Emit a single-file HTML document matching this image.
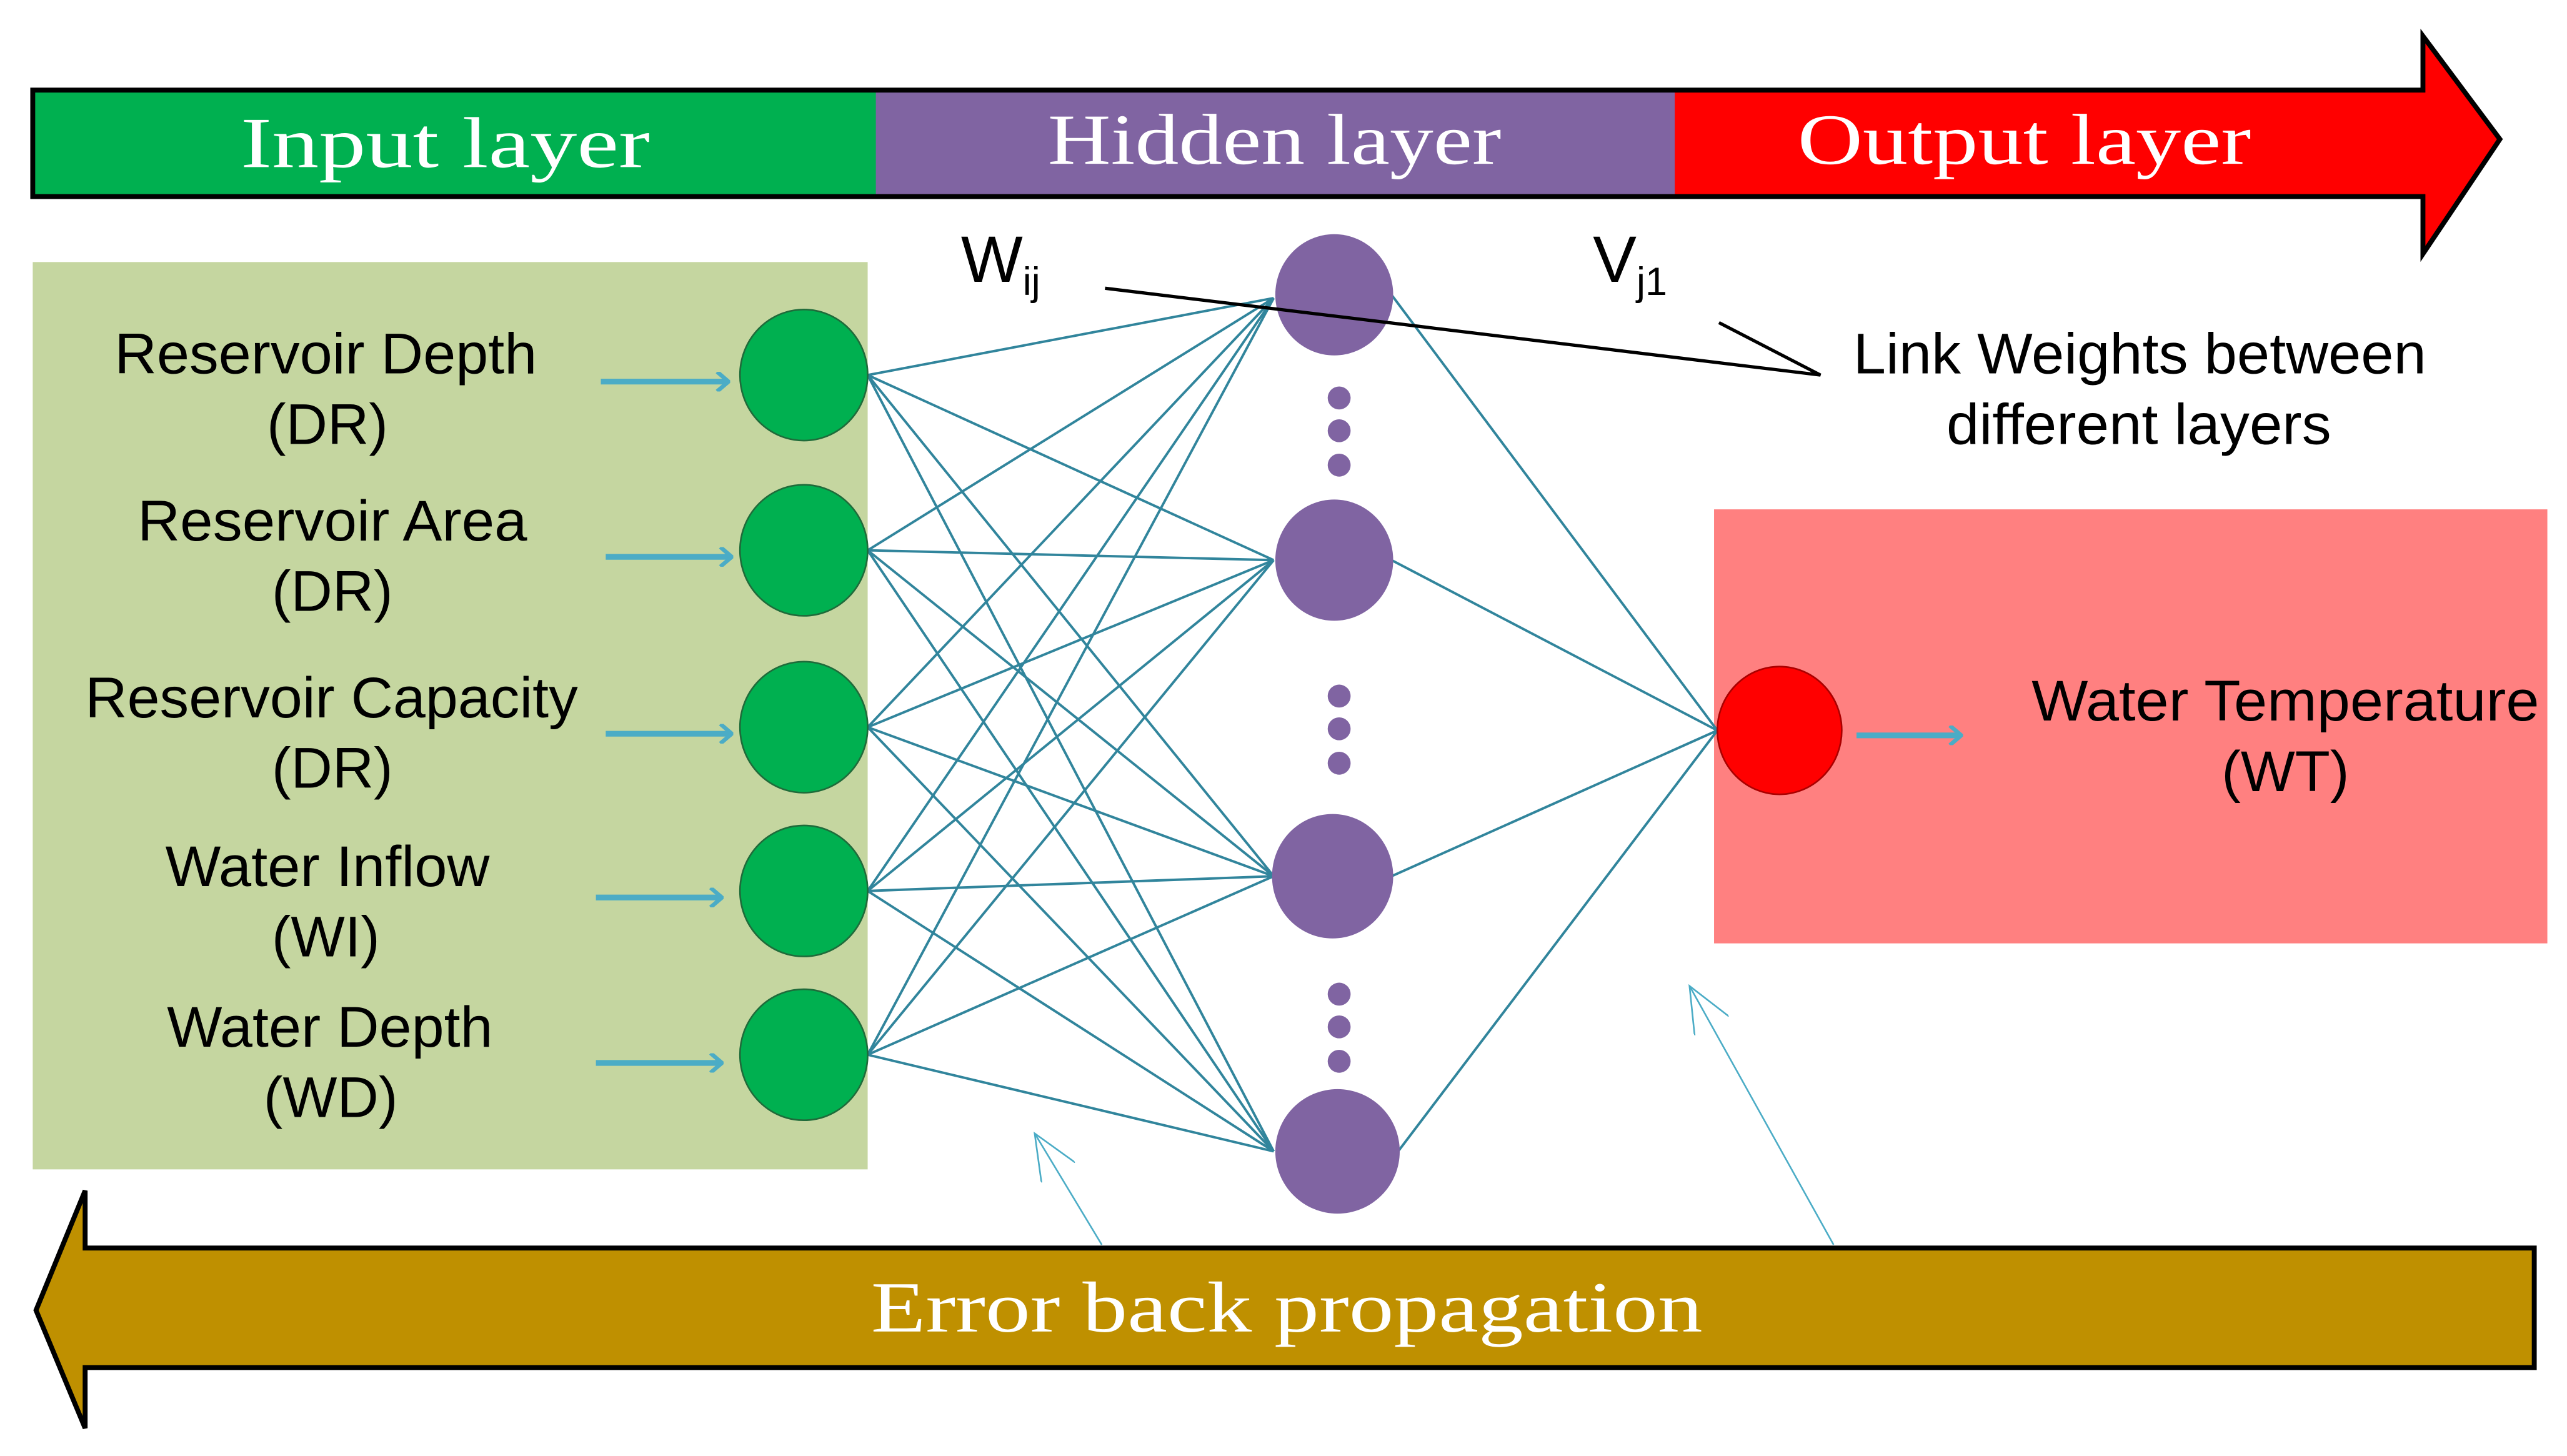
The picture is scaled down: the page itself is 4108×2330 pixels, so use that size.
<!DOCTYPE html>
<html><head><style>html,body{margin:0;padding:0;background:#fff}svg{display:block}</style></head>
<body>
<svg width="4108" height="2330" viewBox="0 0 1568 889" preserveAspectRatio="none" xmlns="http://www.w3.org/2000/svg">
<defs>
<marker id="oa" markerWidth="10" markerHeight="12" refX="9" refY="6" orient="auto" markerUnits="userSpaceOnUse"><path d="M2,0 L9,6 L2,12" fill="none" stroke="#4bacc6" stroke-width="2.5"/></marker>
<marker id="ta" markerWidth="30" markerHeight="24" refX="28" refY="12" orient="auto" markerUnits="userSpaceOnUse"><path d="M0,0 L28,12 L0,24" fill="none" stroke="#4bacc6" stroke-width="1"/></marker>
</defs>
<rect x="20" y="55" width="516" height="65" fill="#00b050"/>
<rect x="535" y="55" width="489" height="65" fill="#8064a2"/>
<path d="M1023,55 L1480,55 L1480,22 L1527,85 L1480,155 L1480,120 L1023,120 Z" fill="#ff0000"/>
<path d="M20,55 L1480,55 L1480,22 L1527,85 L1480,155 L1480,120 L20,120 Z" fill="none" stroke="#000" stroke-width="3"/>
<g font-family="Liberation Serif, serif" font-size="44" fill="#fff">
<text x="147" y="102" textLength="250" lengthAdjust="spacingAndGlyphs">Input  layer</text>
<text x="640" y="100" textLength="277" lengthAdjust="spacingAndGlyphs">Hidden  layer</text>
<text x="1098" y="100" textLength="277" lengthAdjust="spacingAndGlyphs">Output  layer</text>
</g>
<rect x="20" y="160" width="510" height="554" fill="#c5d6a0"/>
<rect x="1047" y="311" width="509" height="265" fill="#ff8080"/>
<g stroke="#31859c" stroke-width="1.5">
<line x1="530" y1="229" x2="778" y2="182"/><line x1="530" y1="229" x2="778" y2="342"/><line x1="530" y1="229" x2="778" y2="535"/><line x1="530" y1="229" x2="778" y2="703"/>
<line x1="530" y1="336" x2="778" y2="182"/><line x1="530" y1="336" x2="778" y2="342"/><line x1="530" y1="336" x2="778" y2="535"/><line x1="530" y1="336" x2="778" y2="703"/>
<line x1="530" y1="444" x2="778" y2="182"/><line x1="530" y1="444" x2="778" y2="342"/><line x1="530" y1="444" x2="778" y2="535"/><line x1="530" y1="444" x2="778" y2="703"/>
<line x1="530" y1="544" x2="778" y2="182"/><line x1="530" y1="544" x2="778" y2="342"/><line x1="530" y1="544" x2="778" y2="535"/><line x1="530" y1="544" x2="778" y2="703"/>
<line x1="530" y1="644" x2="778" y2="182"/><line x1="530" y1="644" x2="778" y2="342"/><line x1="530" y1="644" x2="778" y2="535"/><line x1="530" y1="644" x2="778" y2="703"/>
<line x1="850" y1="180" x2="1049" y2="446"/><line x1="850" y1="342" x2="1049" y2="446"/><line x1="850" y1="535" x2="1049" y2="446"/><line x1="854" y1="703" x2="1049" y2="446"/>
</g>
<g fill="#00b050" stroke="#1f6b3a" stroke-width="1">
<ellipse cx="491" cy="229" rx="39" ry="40"/><ellipse cx="491" cy="336" rx="39" ry="40"/><ellipse cx="491" cy="444" rx="39" ry="40"/><ellipse cx="491" cy="544" rx="39" ry="40"/><ellipse cx="491" cy="644" rx="39" ry="40"/>
</g>
<g fill="#8064a2">
<ellipse cx="815" cy="180" rx="36" ry="37"/><ellipse cx="815" cy="342" rx="36" ry="37"/><ellipse cx="814" cy="535" rx="37" ry="38"/><ellipse cx="817" cy="703" rx="38" ry="38"/>
<circle cx="818" cy="243" r="7"/><circle cx="818" cy="263" r="7"/><circle cx="818" cy="284" r="7"/>
<circle cx="818" cy="425" r="7"/><circle cx="818" cy="445" r="7"/><circle cx="818" cy="466" r="7"/>
<circle cx="818" cy="607" r="7"/><circle cx="818" cy="627" r="7"/><circle cx="818" cy="648" r="7"/>
</g>
<ellipse cx="1087" cy="446" rx="38" ry="39" fill="#ff0000" stroke="#a00" stroke-width="1"/>
<g stroke="#4bacc6" stroke-width="3.5" marker-end="url(#oa)">
<line x1="367" y1="233" x2="445" y2="233"/><line x1="370" y1="340" x2="447" y2="340"/><line x1="370" y1="448" x2="447" y2="448"/><line x1="364" y1="548" x2="441" y2="548"/><line x1="364" y1="649" x2="441" y2="649"/><line x1="1134" y1="449" x2="1198" y2="449"/>
</g>
<g font-family="Liberation Sans, Arial, sans-serif" font-size="35" fill="#000">
<text x="70" y="228" textLength="258" lengthAdjust="spacingAndGlyphs">Reservoir Depth</text><text x="163" y="271" textLength="74" lengthAdjust="spacingAndGlyphs">(DR)</text>
<text x="84" y="330" textLength="238" lengthAdjust="spacingAndGlyphs">Reservoir Area</text><text x="166" y="373" textLength="74" lengthAdjust="spacingAndGlyphs">(DR)</text>
<text x="52" y="438" textLength="301" lengthAdjust="spacingAndGlyphs">Reservoir Capacity</text><text x="166" y="481" textLength="74" lengthAdjust="spacingAndGlyphs">(DR)</text>
<text x="101" y="541" textLength="198" lengthAdjust="spacingAndGlyphs">Water Inflow</text><text x="166" y="584" textLength="66" lengthAdjust="spacingAndGlyphs">(WI)</text>
<text x="102" y="639" textLength="199" lengthAdjust="spacingAndGlyphs">Water Depth</text><text x="161" y="682" textLength="82" lengthAdjust="spacingAndGlyphs">(WD)</text>
<text x="1241" y="440" textLength="310" lengthAdjust="spacingAndGlyphs">Water Temperature</text><text x="1357" y="483" textLength="78" lengthAdjust="spacingAndGlyphs">(WT)</text>
<text x="1132" y="228" textLength="350" lengthAdjust="spacingAndGlyphs">Link Weights between</text><text x="1189" y="271" textLength="235" lengthAdjust="spacingAndGlyphs">different layers</text>
</g>
<g font-family="Liberation Sans, Arial, sans-serif" fill="#000">
<text x="587" y="172" font-size="40">W<tspan font-size="24" dy="8">ij</tspan></text>
<text x="973" y="172" font-size="40">V<tspan font-size="24" dy="8">j1</tspan></text>
</g>
<path d="M675,176 L1112,229 L1050,197" fill="none" stroke="#000" stroke-width="2"/>
<path d="M52,762 L1548,762 L1548,835 L52,835 L52,872 L22,800 L52,727 Z" fill="#bf9000" stroke="#000" stroke-width="3"/>
<text x="532" y="813" font-family="Liberation Serif, serif" font-size="44" fill="#fff" textLength="508" lengthAdjust="spacingAndGlyphs">Error  back  propagation</text>
<line x1="673" y1="760" x2="632" y2="692" stroke="#4bacc6" stroke-width="1" marker-end="url(#ta)"/>
<line x1="1120" y1="760" x2="1032" y2="602" stroke="#4bacc6" stroke-width="1" marker-end="url(#ta)"/>
</svg>
</body></html>
